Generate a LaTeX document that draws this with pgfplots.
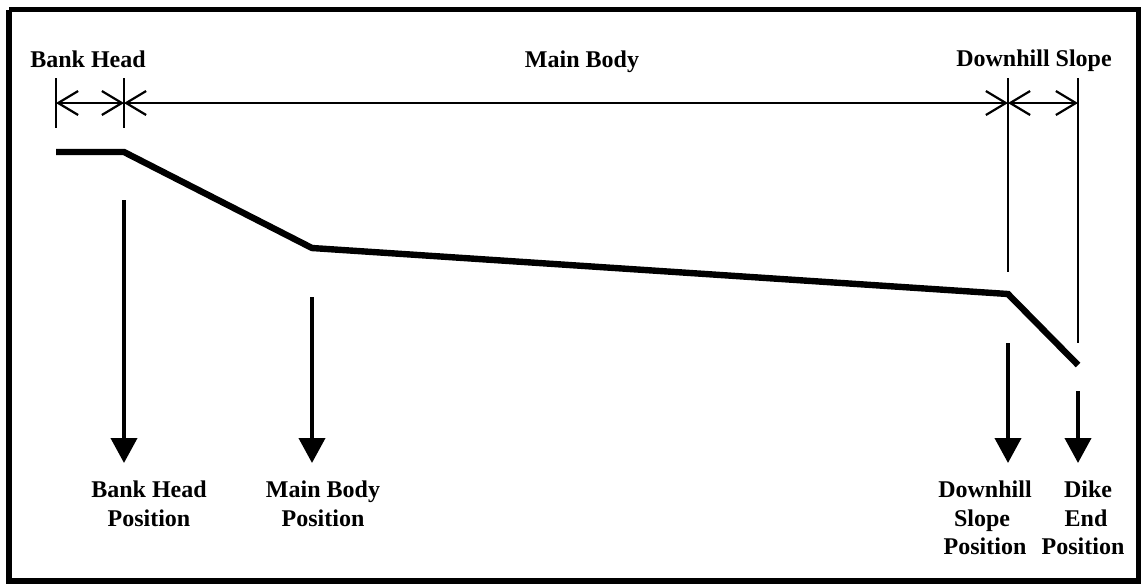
\documentclass[border=0pt]{standalone}
\usepackage{fontspec}
\setmainfont{Liberation Serif}
\usepackage{pgfplots}
\pgfplotsset{compat=1.18}
\usetikzlibrary{arrows.meta}

\tikzset{
  dim/.style={line width=1.1bp, {Straight Barb[length=10bp,width=12bp]}-{Straight Barb[length=10bp,width=12bp]}},
  ext/.style={line width=0.9bp},
  down/.style={line width=2bp, -{Triangle[length=12.5bp,width=13bp]}},
  lbl/.style={font=\bfseries\fontsize{12bp}{14.5bp}\selectfont, inner sep=0pt, anchor=base},
}

\begin{document}
\begin{tikzpicture}
\begin{axis}[
  width=571bp, height=291.5bp, scale only axis,
  xmin=0, xmax=1142, ymin=0, ymax=583, y dir=reverse,
  hide axis, clip=false,
]
% page extent
\addplot[draw=none] coordinates {(0,0) (1142,583)};
% frame
\addplot[line width=2.75bp, line join=miter] coordinates {(9,9.5) (1138.5,9.5) (1138.5,581) (9,581) (9,9.5)};

% dike profile
\addplot[line width=3.2bp, line join=miter] coordinates {
  (56,152) (124,152) (312,248) (1008,294) (1078,365)
};

% extension lines
\addplot[ext] coordinates {(56,78) (56,128)};
\addplot[ext] coordinates {(124,78) (124,128)};
\addplot[ext] coordinates {(1008,78) (1008,272)};
\addplot[ext] coordinates {(1078,78) (1078,343)};

% dimension lines
\addplot[dim] coordinates {(56,103) (124,103)};
\addplot[dim] coordinates {(124,103) (1008,103)};
\addplot[dim] coordinates {(1008,103) (1078,103)};

% position arrows
\addplot[down] coordinates {(124,200) (124,463)};
\addplot[down] coordinates {(312,297) (312,463)};
\addplot[down] coordinates {(1008,343) (1008,463)};
\addplot[down] coordinates {(1078,391) (1078,463)};

% top labels
\node[lbl] at (axis cs:88,67) {Bank Head};
\node[lbl] at (axis cs:582,67) {Main Body};
\node[lbl] at (axis cs:1034,66) {Downhill Slope};

% bottom labels
\node[lbl] at (axis cs:149,497) {Bank Head};
\node[lbl] at (axis cs:149,526) {Position};
\node[lbl] at (axis cs:323,497) {Main Body};
\node[lbl] at (axis cs:323,526) {Position};
\node[lbl] at (axis cs:985,497) {Downhill};
\node[lbl] at (axis cs:982,526) {Slope};
\node[lbl] at (axis cs:985,554) {Position};
\node[lbl] at (axis cs:1088,497) {Dike};
\node[lbl] at (axis cs:1086,526) {End};
\node[lbl] at (axis cs:1083,554) {Position};
\end{axis}
\end{tikzpicture}
\end{document}
